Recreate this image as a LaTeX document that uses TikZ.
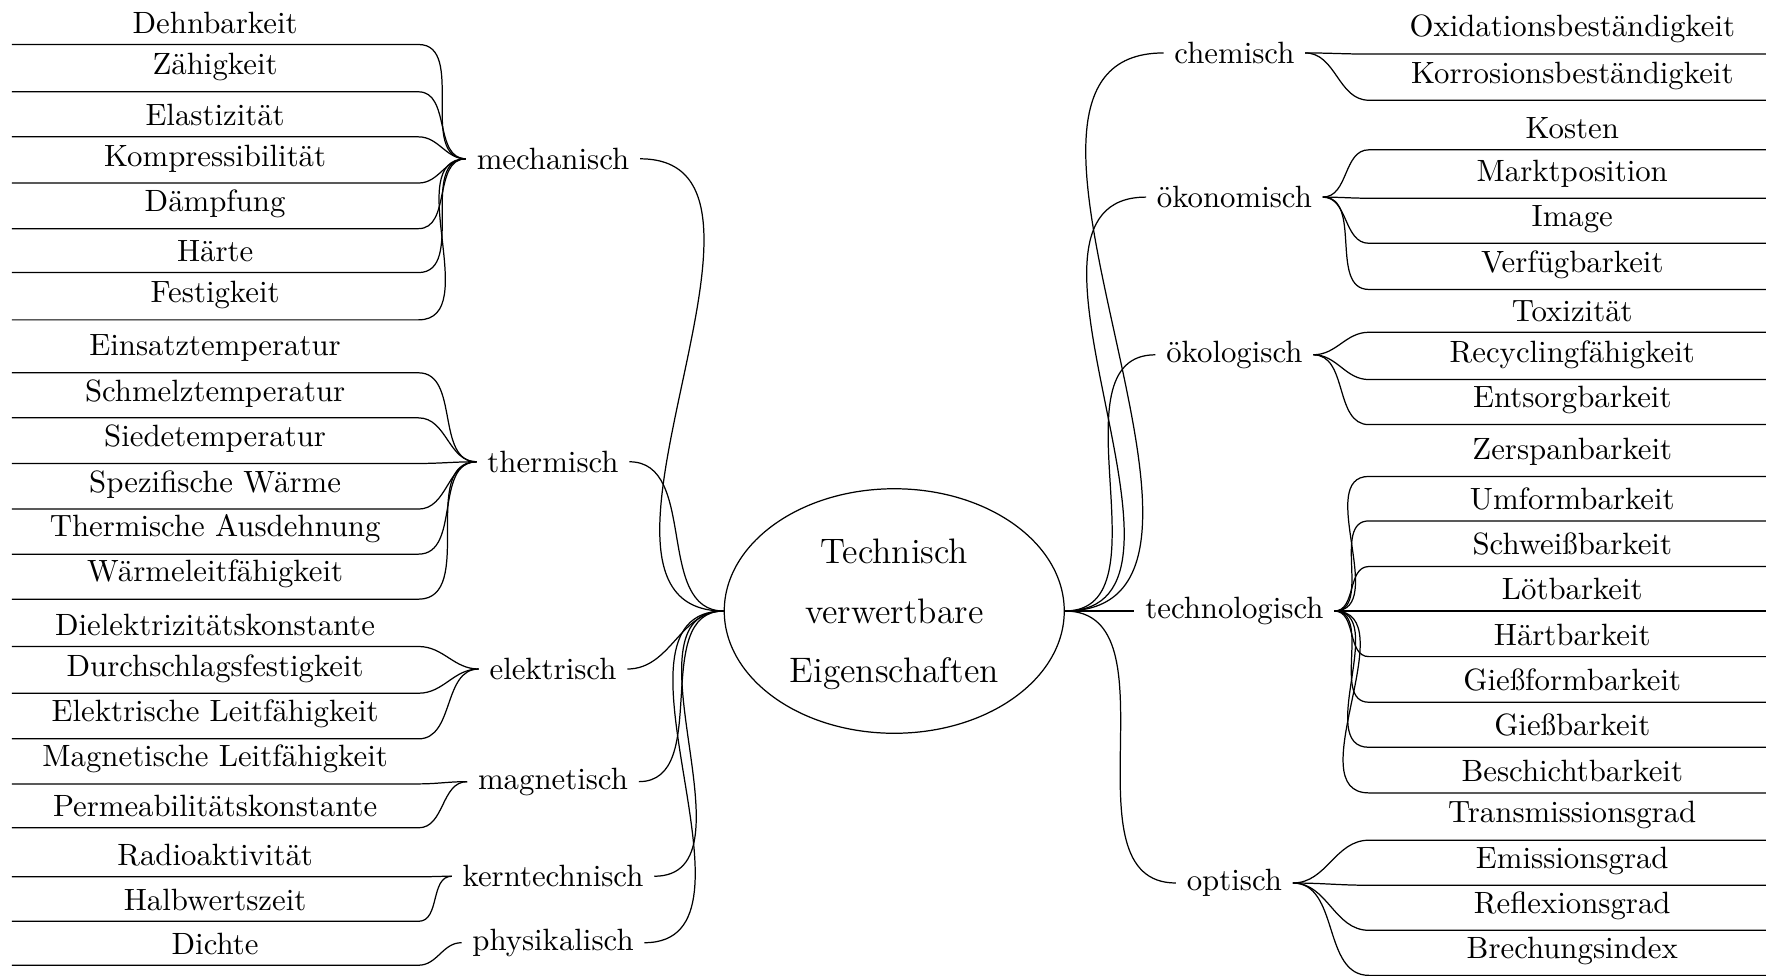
\documentclass[tikz,border=0pt]{standalone}
\usetikzlibrary{shapes.geometric}
\begin{document}
\begin{tikzpicture}[x=0.3657pt,y=-0.3657pt,
  leaf/.style={text width=131.65pt, align=center, inner xsep=0pt, inner ysep=3.33pt, anchor=south},
  cat/.style={inner sep=3.33pt},
  root/.style={ellipse, draw, minimum width=110.4pt, minimum height=79.4pt, inner sep=0pt},
  roottext/.style={align=center, inner sep=0pt, font=\fontsize{11.5}{19.4}\selectfont},
  conn/.style={line width=0.4pt}]
\useasboundingbox (0,0) rectangle (1568,866.6);

\node[root] (root) at (794,542.5) {};
\node[roottext] (rootlabel) at (794,545.5) {Technisch\\verwertbare\\Eigenschaften};

% left categories
\node[cat] (mech)  at (491,141) {mechanisch};
\node[cat] (therm) at (491,410) {thermisch};
\node[cat] (elek)  at (491,594) {elektrisch};
\node[cat] (magn)  at (491,694) {magnetisch};
\node[cat] (kern)  at (491,778) {kerntechnisch};
\node[cat] (phys)  at (491,837) {physikalisch};
% right categories
\node[cat] (chem)  at (1096,47) {chemisch};
\node[cat] (oeko)  at (1096,175) {ökonomisch};
\node[cat] (oekol) at (1096,315) {ökologisch};
\node[cat] (tech)  at (1096,542.5) {technologisch};
\node[cat] (opt)   at (1096,784) {optisch};

\foreach \c in {mech,therm,elek,magn,kern,phys}
  \draw[conn] (root.west) to[out=180,in=0] (\c.east);
\foreach \c in {chem,oeko,oekol,tech,opt}
  \draw[conn] (root.east) to[out=0,in=180] (\c.west);

% left leaves
\foreach \n/\t/\y/\p in {
  l1/Dehnbarkeit/39.5/mech, l2/Zähigkeit/81.5/mech, l3/Elastizität/121.5/mech,
  l4/Kompressibilität/162.5/mech, l5/Dämpfung/203/mech, l6/Härte/242/mech, l7/Festigkeit/284/mech,
  l8/Einsatztemperatur/331/therm, l9/Schmelztemperatur/371/therm, l10/Siedetemperatur/411.5/therm,
  l11/Spezifische Wärme/452/therm, l12/Thermische Ausdehnung/492/therm, l13/Wärmeleitfähigkeit/532/therm,
  l14/Dielektrizitätskonstante/574/elek, l15/Durchschlagsfestigkeit/615.5/elek, l16/Elektrische Leitfähigkeit/656/elek,
  l17/Magnetische Leitfähigkeit/696/magn, l18/Permeabilitätskonstante/735/magn,
  l19/Radioaktivität/778.5/kern, l20/Halbwertszeit/818/kern,
  l21/Dichte/857/phys}{
  \node[leaf] (\n) at (191,\y) {\t};
  \draw[conn] (\n.south west) -- (\n.south east) to[out=0,in=180] (\p.west);
}

% right leaves
\foreach \n/\t/\y/\p in {
  r1/Oxidationsbeständigkeit/48/chem, r2/Korrosionsbeständigkeit/89/chem,
  r3/Kosten/133/oeko, r4/Marktposition/176/oeko, r5/Image/216/oeko, r6/Verfügbarkeit/257/oeko,
  r7/Toxizität/295/oekol, r8/Recyclingfähigkeit/337/oekol, r9/Entsorgbarkeit/377/oekol,
  r10/Zerspanbarkeit/423/tech, r11/Umformbarkeit/462.5/tech, r12/Schweißbarkeit/503/tech,
  r13/Lötbarkeit/542.5/tech, r14/Härtbarkeit/583/tech, r15/Gießformbarkeit/623.5/tech,
  r16/Gießbarkeit/663.5/tech, r17/Beschichtbarkeit/704/tech,
  r18/Transmissionsgrad/746/opt, r19/Emissionsgrad/786/opt, r20/Reflexionsgrad/826/opt,
  r21/Brechungsindex/866/opt}{
  \node[leaf] (\n) at (1396,\y) {\t};
  \draw[conn] (\p.east) to[out=0,in=180] (\n.south west) -- (\n.south east);
}
\end{tikzpicture}
\end{document}
